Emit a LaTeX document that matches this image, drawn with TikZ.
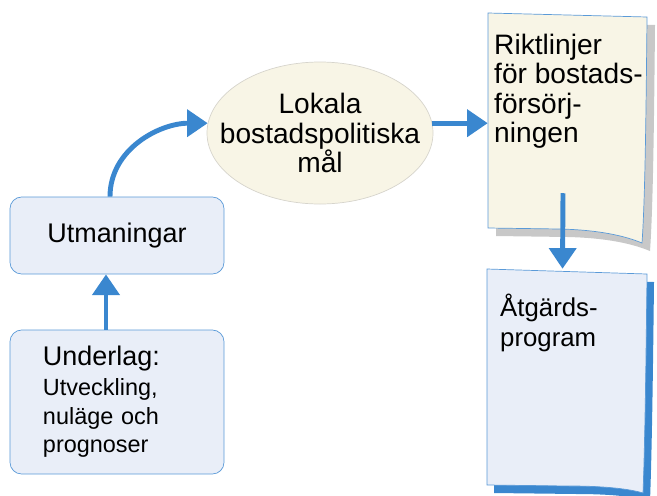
\documentclass[tikz,border=0pt]{standalone}
\usepackage{fontspec}
\setmainfont{Liberation Sans}
\usetikzlibrary{shapes.geometric,arrows.meta}
\definecolor{pilblue}{HTML}{3A87CF}
\definecolor{boxfill}{HTML}{E9EEF8}
\definecolor{boxline}{HTML}{5A9AD8}
\definecolor{cream}{HTML}{F8F5E6}
\definecolor{ellline}{HTML}{D6D4CC}
\definecolor{shadowgray}{HTML}{C8C8C8}
\begin{document}
\begin{tikzpicture}[x=0.03cm,y=-0.03cm,
  pil/.style={line width=4.2pt,pilblue,-{Triangle[length=0.62cm,width=0.8cm]}},
  ruta/.style={rectangle,rounded corners=0.35cm,draw=boxline,fill=boxfill,line width=0.6pt,minimum width=6.42cm},
  sida/.style={rectangle,inner sep=0pt}]
\useasboundingbox (0,0) rectangle (657,495);
%
% sidorna (ritas forst)
\draw[fill=shadowgray,draw=none,shift={(8,8)}] (488,13) -- (647,17) .. controls (646,120) and (645,200) .. (642,243) .. controls (625,236) and (600,230) .. (560,229) -- (488,228) -- cycle;
\draw[fill=cream,draw=boxline,line width=0.6pt] (488,13) -- (647,17) .. controls (646,120) and (645,200) .. (642,243) .. controls (625,236) and (600,230) .. (560,229) -- (488,228) -- cycle;
%
\draw[fill=pilblue,draw=none,shift={(7,8)}] (487,269) -- (647,274) .. controls (646,360) and (645,440) .. (643,493) .. controls (630,489) and (605,486) .. (570,486) -- (487,485) -- cycle;
\draw[fill=boxfill,draw=boxline,line width=0.6pt] (487,269) -- (647,274) .. controls (646,360) and (645,440) .. (643,493) .. controls (630,489) and (605,486) .. (570,486) -- (487,485) -- cycle;
%
\node at (567.5,120.5) [sida,minimum width=4.77cm,minimum height=6.45cm] (riktl) {};
\node at (567,377) [sida,minimum width=4.8cm,minimum height=6.48cm] (atg) {};
\node at (494,34) [anchor=north west,align=left,inner sep=0pt,font=\fontsize{24}{25}\selectfont] (riktltxt) {Riktlinjer\\för bostads-\\försörj-\\ningen};
\node at (500,294) [anchor=north west,align=left,inner sep=0pt,font=\fontsize{22}{25}\selectfont] (atgtxt) {Åtgärds-\\program};
%
\node at (117,235.5) [ruta,minimum height=2.31cm,font=\fontsize{23}{25}\selectfont] (utm) {Utmaningar};
\node at (117,402) [ruta,minimum height=4.32cm,align=left,text width=4.44cm,font=\fontsize{20}{24.5}\selectfont] (und) {{\fontsize{23}{25}\selectfont Underlag:}\\[1pt]Utveckling,\\nuläge och\\prognoser};
\node at (320,133) [ellipse,draw=ellline,fill=cream,line width=0.6pt,minimum width=6.78cm,minimum height=4.26cm,inner sep=0pt] (mal) {};
\node at (mal.center) [align=center,inner sep=0pt,font=\fontsize{24}{25}\selectfont] (maltxt) {Lokala\\bostadspolitiska\\mål};
%
\draw[pil] ([xshift=-0.33cm]und.north) -- ([xshift=-0.33cm]utm.south);
\draw[pil] ([xshift=-0.21cm]utm.north) to[out=90,in=180] (mal.175);
\draw[pil] (mal.5) -- (riktl.west |- mal.5);
\draw[pil] ([xshift=-0.135cm,yshift=1.05cm]riktl.south) -- ([xshift=-0.135cm]atg.north);
\end{tikzpicture}
\end{document}
